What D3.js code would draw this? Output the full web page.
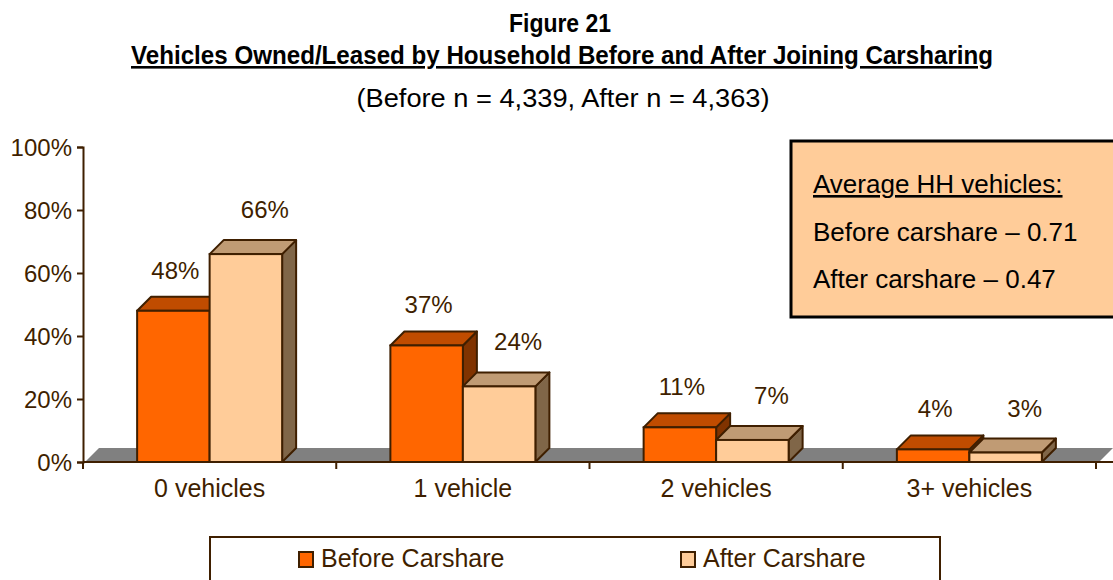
<!DOCTYPE html>
<html>
<head>
<meta charset="utf-8">
<script src="https://cdn.jsdelivr.net/npm/d3@7"></script>
<style>
  body { margin: 0; background: #fff; }
  svg { display: block; }
</style>
</head>
<body>
<svg id="chart" width="1113" height="580"></svg>
<script>
const categories = ['0 vehicles', '1 vehicle', '2 vehicles', '3+ vehicles'];
const seriesNames = ['Before Carshare', 'After Carshare'];
const beforeValues = [0.48, 0.37, 0.11, 0.04];
const afterValues = [0.66, 0.24, 0.07, 0.03];
const yTicks = [0, 0.2, 0.4, 0.6, 0.8, 1.0];
const boxLines = ['Average HH vehicles:', 'Before carshare \u2013 0.71', 'After carshare \u2013 0.47'];

const svg = d3.select('#chart');
const ink = '#3f1f00';
const depth = 14;
const font = 'Liberation Sans, Arial, sans-serif';

// colours: front / top / side
const palette = {
    before: { front: '#ff6600', top: '#c04c00', side: '#803300' },
    after: { front: '#ffcc99', top: '#c09b74', side: '#806648' }
};

// scales
const x = d3.scaleBand().domain(categories).range([83, 1096]).padding(0);
const y = d3.scaleLinear().domain([0, 1]).range([462, 147]);
const barW = 72.5;
const inner = d3.scaleBand().domain(['before', 'after'])
    .range([x.bandwidth() / 2 - barW, x.bandwidth() / 2 + barW]).padding(0);

// titles (source uses a condensed face, so squeeze to the measured widths)
svg.append('text').attr('x', 560).attr('y', 32).attr('text-anchor', 'middle')
    .style('font-family', font).style('font-weight', 'bold').style('font-size', '26px')
    .attr('textLength', 102).attr('lengthAdjust', 'spacingAndGlyphs')
    .text('Figure 21');
svg.append('text').attr('x', 562).attr('y', 64).attr('text-anchor', 'middle')
    .style('font-family', font).style('font-weight', 'bold').style('font-size', '26px')
    .style('text-decoration', 'underline')
    .attr('textLength', 862).attr('lengthAdjust', 'spacingAndGlyphs')
    .text('Vehicles Owned/Leased by Household Before and After Joining Carsharing');
svg.append('text').attr('x', 563).attr('y', 107).attr('text-anchor', 'middle')
    .style('font-family', font).style('font-size', '25px')
    .attr('textLength', 413).attr('lengthAdjust', 'spacingAndGlyphs')
    .text('(Before n = 4,339, After n = 4,363)');

// floor
const x0 = 85, x1 = 1099;
svg.append('path')
    .attr('d', `M${x0},${y(0)}L${x0 + depth},${y(0) - depth}L${x1 + depth},${y(0) - depth}L${x1},${y(0)}Z`)
    .attr('fill', '#808080');

// y axis
const yAxis = d3.axisLeft(y).tickValues(yTicks).tickFormat(d3.format('.0%')).tickSize(6).tickPadding(5);
const yg = svg.append('g').attr('transform', 'translate(83,0)').call(yAxis);
yg.select('.domain').attr('stroke', ink).attr('stroke-width', 2);
yg.selectAll('.tick line').attr('stroke', ink).attr('stroke-width', 2);
yg.selectAll('.tick text').attr('fill', ink).attr('dy', '0.36em')
    .style('font-family', font).style('font-size', '24px');

// x axis
const xAxis = d3.axisBottom(x).tickSize(0).tickPadding(0);
const xg = svg.append('g').attr('transform', `translate(0,${y(0)})`).call(xAxis);
xg.select('.domain').attr('d', `M83,0H1113`).attr('stroke', ink).attr('stroke-width', 2);
xg.selectAll('.tick text').attr('fill', ink).attr('dy', null).attr('y', 35)
    .style('font-family', font).style('font-size', '25px');
const bounds = categories.map(c => x(c)).concat([x(categories[categories.length - 1]) + x.bandwidth()]);
xg.selectAll('line.sep').data(bounds).join('line').attr('class', 'sep')
    .attr('x1', d => d).attr('x2', d => d).attr('y1', 0).attr('y2', 7)
    .attr('stroke', ink).attr('stroke-width', 2);

// bars
const rows = categories.map((c, i) => ({ cat: c, before: beforeValues[i], after: afterValues[i] }));
const cats = svg.append('g').selectAll('g.cat').data(rows).join('g')
    .attr('class', 'cat').attr('transform', d => `translate(${x(d.cat)},0)`);

['before', 'after'].forEach(key => {
    const col = palette[key];
    const bx = inner(key), w = inner.bandwidth();
    const bar = cats.append('g').attr('class', 'bar-' + key);
    bar.append('path') // side
        .attr('d', d => `M${bx + w},${y(d[key])}L${bx + w + depth},${y(d[key]) - depth}L${bx + w + depth},${y(0) - depth}L${bx + w},${y(0)}Z`)
        .attr('fill', col.side).attr('stroke', ink).attr('stroke-width', 2).attr('stroke-linejoin', 'round');
    bar.append('path') // top
        .attr('d', d => `M${bx},${y(d[key])}L${bx + depth},${y(d[key]) - depth}L${bx + w + depth},${y(d[key]) - depth}L${bx + w},${y(d[key])}Z`)
        .attr('fill', col.top).attr('stroke', ink).attr('stroke-width', 2).attr('stroke-linejoin', 'round');
    bar.append('rect') // front
        .attr('x', bx).attr('y', d => y(d[key])).attr('width', w).attr('height', d => y(0) - y(d[key]))
        .attr('fill', col.front).attr('stroke', ink).attr('stroke-width', 2);
    bar.append('text')
        .attr('x', bx + w / 2 + (key === 'after' ? 19 : 2))
        .attr('y', d => y(d[key]) - depth - (key === 'after' ? 22 : 18))
        .attr('text-anchor', 'middle').attr('fill', ink)
        .style('font-family', font).style('font-size', '24px')
        .text(d => d3.format('.0%')(d[key]));
});

// annotation box
svg.append('rect').attr('x', 791).attr('y', 141).attr('width', 330).attr('height', 176)
    .attr('fill', '#ffcc99').attr('stroke', '#000').attr('stroke-width', 3);
svg.append('g').selectAll('text').data(boxLines).join('text')
    .attr('x', 813).attr('y', (d, i) => 193 + i * 47.5)
    .style('font-family', font).style('font-size', '26px').attr('fill', '#000')
    .style('text-decoration', (d, i) => i === 0 ? 'underline' : null)
    .text(d => d);

// legend
svg.append('rect').attr('x', 210).attr('y', 537).attr('width', 730).attr('height', 70)
    .attr('fill', '#fff').attr('stroke', ink).attr('stroke-width', 2);
const legendX = [299, 681];
const lg = svg.append('g').selectAll('g').data(seriesNames).join('g')
    .attr('transform', (d, i) => `translate(${legendX[i]},552)`);
lg.append('rect').attr('width', 14).attr('height', 15)
    .attr('fill', (d, i) => i === 0 ? palette.before.front : palette.after.front)
    .attr('stroke', ink).attr('stroke-width', 2);
lg.append('text').attr('x', 22).attr('y', 15).attr('fill', ink)
    .style('font-family', font).style('font-size', '25px')
    .text(d => d);
</script>
</body>
</html>
